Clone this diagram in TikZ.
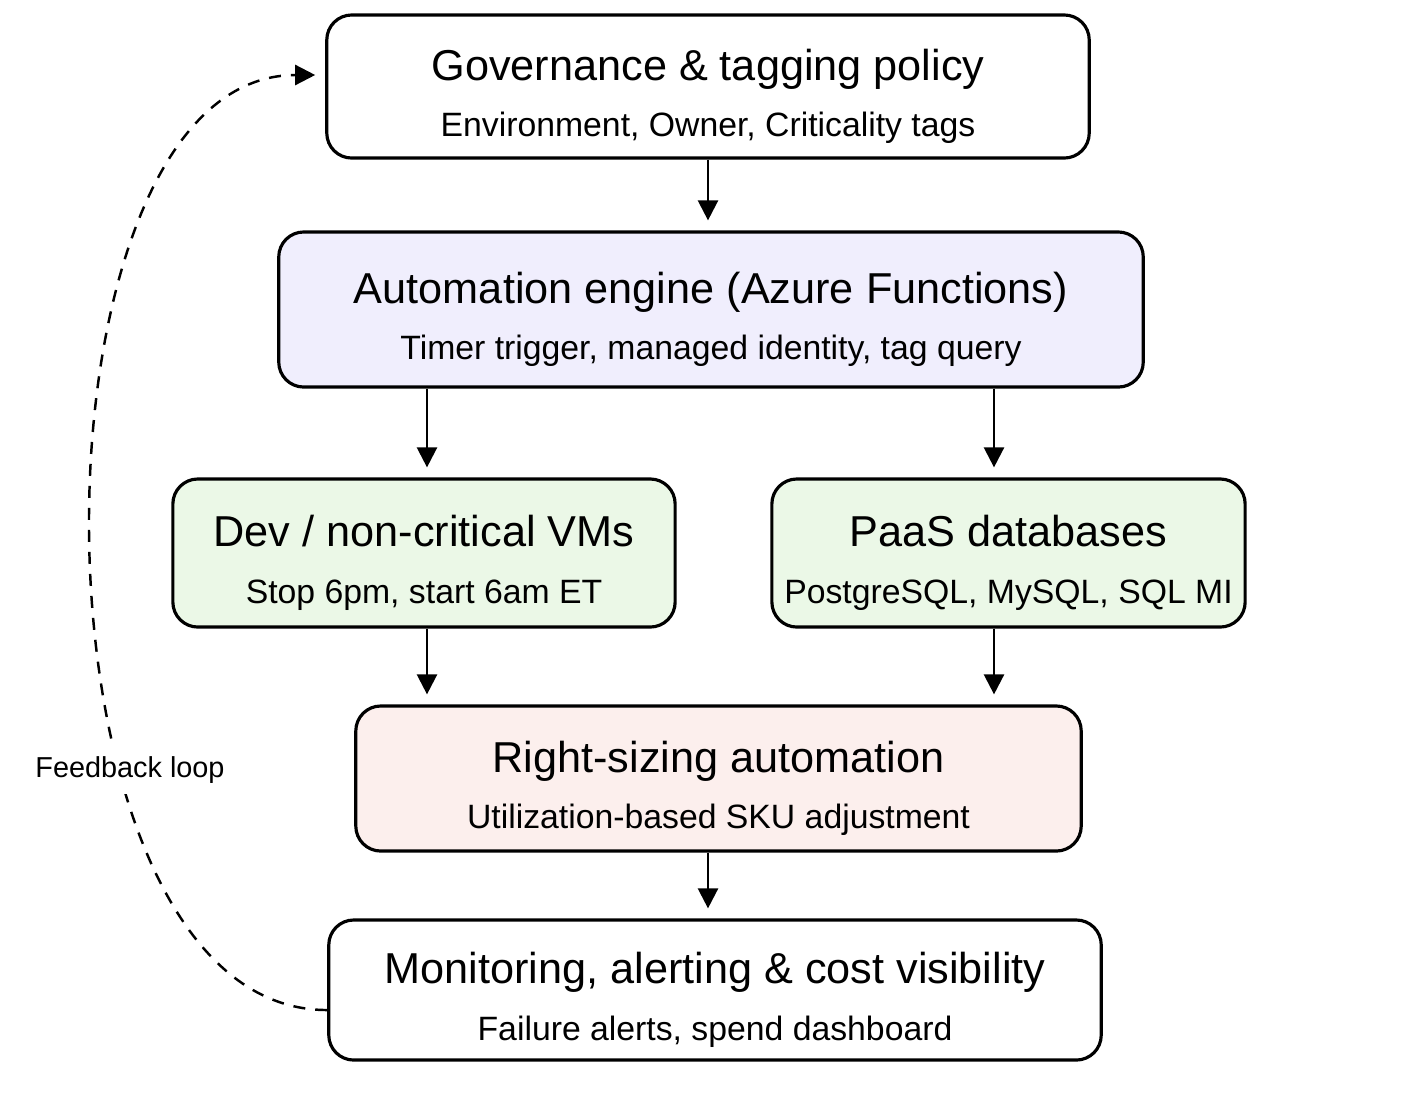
\documentclass[tikz,border=0pt]{standalone}
\usepackage{fontspec}
\setmainfont{Liberation Sans}
\usetikzlibrary{arrows.meta, positioning, calc}

\definecolor{autofill}{HTML}{F0EEFD}
\definecolor{vmfill}{HTML}{EBF8E7}
\definecolor{sizefill}{HTML}{FCEFED}

\newcommand{\stagetitle}[1]{{\fontsize{12.3}{15}\selectfont\rule{0pt}{14.5pt}#1}}

\begin{document}
\begin{tikzpicture}[
    x=0.01cm, y=-0.01cm,
    stage/.style={rectangle, rounded corners=0.25cm, draw=black, line width=0.9pt, fill=white,
        align=center, inner sep=0pt, font=\fontsize{9.6}{15}\selectfont},
    arrow/.style={-{Triangle[length=2mm, width=2mm]}, line width=0.7pt, shorten >=1mm},
    loopline/.style={-{Triangle[length=2mm, width=2mm]}, line width=0.7pt, dash pattern=on 1.2mm off 1mm, shorten >=1mm},
    note/.style={font=\fontsize{8.2}{10}\selectfont, fill=white, inner sep=3pt}
]
\useasboundingbox (0,0) rectangle (1419,1108);

% =================== TOP: GOVERNANCE ===================
\node[stage, minimum width=7.62cm, minimum height=1.43cm] (gov) at (708,86.5)
{\stagetitle{Governance \& tagging policy}\\[1pt]
 Environment, Owner, Criticality tags};

% =================== AUTOMATION ENGINE ===================
\node[stage, fill=autofill, minimum width=8.64cm, minimum height=1.55cm] (auto) at (711,309.5)
{\stagetitle{Automation engine (Azure Functions)}\\[1pt]
 Timer trigger, managed identity, tag query};

% =================== TARGETS ===================
\node[stage, fill=vmfill, minimum width=5.02cm, minimum height=1.48cm] (dev) at (424,553)
{\stagetitle{Dev / non-critical VMs}\\[1pt]
 Stop 6pm, start 6am ET};

\node[stage, fill=vmfill, minimum width=4.73cm, minimum height=1.48cm] (paas) at (1008.5,553)
{\stagetitle{PaaS databases}\\[1pt]
 PostgreSQL, MySQL, SQL MI};

% =================== RIGHT-SIZING ===================
\node[stage, fill=sizefill, minimum width=7.25cm, minimum height=1.45cm] (size) at (718.5,778.5)
{\stagetitle{Right-sizing automation}\\[1pt]
 Utilization-based SKU adjustment};

% =================== MONITORING ===================
\node[stage, minimum width=7.72cm, minimum height=1.40cm] (mon) at (715,990)
{\stagetitle{Monitoring, alerting \& cost visibility}\\[1pt]
 Failure alerts, spend dashboard};

% columns for the split arrows
\coordinate (lcol) at (427,0);
\coordinate (rcol) at (994,0);

\draw[arrow] (gov) -- (gov.south |- auto.north);
\draw[arrow] (auto.south -| lcol) -- (dev.north -| lcol);
\draw[arrow] (auto.south -| rcol) -- (paas.north -| rcol);
\draw[arrow] (dev.south -| lcol) -- (size.north -| lcol);
\draw[arrow] (paas.south -| rcol) -- (size.north -| rcol);
\draw[arrow] (size.south -| gov) -- (mon.north -| gov);

% =================== FEEDBACK LOOP ===================
\draw[loopline] ([yshift=-0.2cm]mon.west) to[out=180, in=180, looseness=0.85] ([yshift=0.115cm]gov.west);
\node[note] (fb) at (130,770) {Feedback loop};

\end{tikzpicture}
\end{document}
